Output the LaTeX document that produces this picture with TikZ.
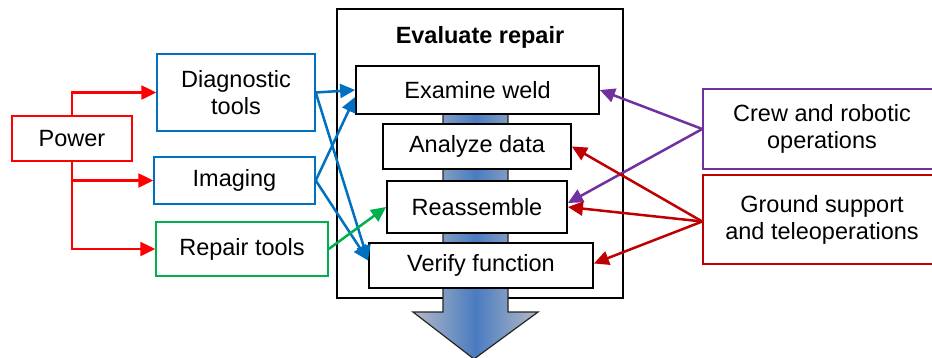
\documentclass[tikz,border=0pt]{standalone}
\usepackage{fontspec}
\setmainfont{Liberation Sans}
\usepackage{xcolor}
\usetikzlibrary{arrows.meta, positioning}

\definecolor{pwrred}{HTML}{FF0000}
\definecolor{toolblue}{HTML}{0070C0}
\definecolor{fixgreen}{HTML}{00B050}
\definecolor{crewpurple}{HTML}{7030A0}
\definecolor{gndred}{HTML}{C00000}
\definecolor{flowblue}{HTML}{4A7CC0}
\definecolor{flowgray}{HTML}{B4B9C6}

\begin{document}
\begin{tikzpicture}[x=1pt, y=-1pt,
    font=\fontsize{23.5}{27}\selectfont,
    box/.style={rectangle, draw, line width=1.5pt, fill=white, align=center, inner sep=2pt},
    task/.style={box, draw=black, line width=1.8pt},
    link/.style={line width=2.5pt, -{Triangle[length=15pt, width=14pt]}}]

    \useasboundingbox (0,0) rectangle (932,357);

    % evaluation frame and flow arrow
    \node [box, draw=black, line width=1.8pt, minimum width=286pt, minimum height=289pt] (frame) at (480,153.5) {};
    \node [font=\fontsize{23.5}{27}\selectfont\bfseries, below=15pt of frame.north] (title) {Evaluate repair};
    \shadedraw [left color=flowgray, right color=flowgray, middle color=flowblue, draw=black!85, line width=1.2pt]
        (443,100) -- (443,312) -- (413,312) -- (474,359) -- (538,312) -- (508,312) -- (508,100) -- cycle;

    \node [task, minimum width=243pt, minimum height=48pt] (examine) at (477.5,90) {Examine weld};
    \node [task, minimum width=188pt, minimum height=45pt] (analyze) at (477,146.5) {Analyze data};
    \node [task, minimum width=180pt, minimum height=52pt] (reassemble) at (477,207) {Reassemble};
    \node [task, minimum width=224pt, minimum height=45pt] (verify) at (481,265.5) {Verify function};

    % inputs
    \node [box, draw=pwrred, minimum width=120pt, minimum height=45pt] (power) at (72,138.5) {Power};
    \node [box, draw=toolblue, minimum width=158pt, minimum height=77pt] (diag) at (236,92.5) {Diagnostic\\tools};
    \node [box, draw=toolblue, minimum width=161pt, minimum height=47pt] (imaging) at (234.5,180.5) {Imaging};
    \node [box, draw=fixgreen, minimum width=172pt, minimum height=54pt] (repair) at (242,249) {Repair tools};

    \node [box, draw=crewpurple, minimum width=238pt, minimum height=80pt] (crew) at (822,129) {Crew and robotic\\operations};
    \node [box, draw=gndred, minimum width=238pt, minimum height=89pt] (ground) at (822,219.5) {Ground support\\and teleoperations};

    \draw [link, pwrred] (power.north) |- (diag.west);
    \draw [link, pwrred] (power.south) |- (imaging.west);
    \draw [link, pwrred] (power.south) |- (repair.west);

    \draw [link, toolblue] (diag.east) -- (examine.west);
    \draw [link, toolblue] (diag.east) -- ([yshift=5pt]verify.west);
    \draw [link, toolblue] (imaging.east) -- ([yshift=-7pt]examine.west);
    \draw [link, toolblue] (imaging.east) -- ([yshift=5pt]verify.west);
    \draw [link, fixgreen] (repair.east) -- (reassemble.west);

    \draw [link, crewpurple] (crew.west) -- (examine.east);
    \draw [link, crewpurple] (crew.west) -- ([yshift=4pt]reassemble.east);
    \draw [link, gndred] ([yshift=-2pt]ground.west) -- (analyze.east);
    \draw [link, gndred] ([yshift=-2pt]ground.west) -- (reassemble.east);
    \draw [link, gndred] ([yshift=-2pt]ground.west) -- ([yshift=2pt]verify.east);

\end{tikzpicture}
\end{document}
